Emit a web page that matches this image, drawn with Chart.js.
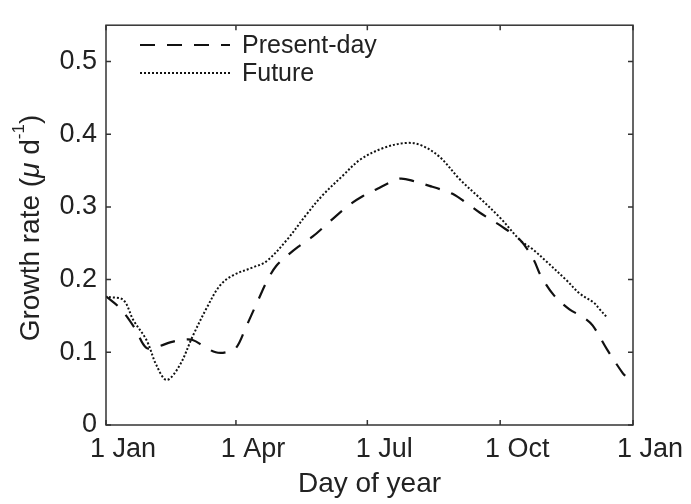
<!DOCTYPE html>
<html>
<head>
<meta charset="utf-8">
<script src="https://cdn.jsdelivr.net/npm/chart.js@4"></script>
<style>
  html, body { margin: 0; padding: 0; background: #fff; }
  #wrap { width: 691px; height: 504px; }
</style>
</head>
<body>
<div id="wrap"><canvas id="growthChart"></canvas></div>
<script>
// values (x = day of year)
const presentDays = [0, 10, 20, 28, 36, 45, 52, 60, 68, 76, 83, 90, 97, 105, 112, 118, 125, 133, 143, 155, 168, 178, 188, 196, 204, 214, 224, 232, 240, 250, 259, 267, 275, 287, 296, 301, 310, 321, 330, 337, 347, 358, 360];
const presentRate = [0.177, 0.160, 0.133, 0.106, 0.108, 0.114, 0.117, 0.117, 0.108, 0.100, 0.100, 0.106, 0.135, 0.170, 0.200, 0.219, 0.232, 0.245, 0.259, 0.280, 0.302, 0.315, 0.325, 0.333, 0.339, 0.335, 0.329, 0.324, 0.318, 0.305, 0.292, 0.282, 0.272, 0.254, 0.228, 0.206, 0.179, 0.159, 0.149, 0.137, 0.104, 0.071, 0.067];

const futureDays = [2, 12, 19, 28, 35, 42, 51, 60, 70, 79, 88, 102, 111, 125, 139, 150, 164, 176, 192, 208, 218, 231, 245, 259, 273, 287, 296, 305, 319, 328, 338, 342, 347];
const futureRate = [0.176, 0.172, 0.144, 0.117, 0.082, 0.062, 0.082, 0.122, 0.162, 0.192, 0.206, 0.217, 0.225, 0.254, 0.290, 0.316, 0.343, 0.365, 0.381, 0.388, 0.385, 0.369, 0.338, 0.312, 0.285, 0.254, 0.241, 0.225, 0.199, 0.181, 0.168, 0.159, 0.148];

const xTickDays = [0, 90, 181, 273, 365];
const xTickLabels = ['1 Jan', '1 Apr', '1 Jul', '1 Oct', '1 Jan'];
const yTicks = [0, 0.1, 0.2, 0.3, 0.4, 0.5];
const seriesNames = ['Present-day', 'Future'];

const FONT = '"Liberation Sans", Arial, sans-serif';
const INK = '#222';

function toPoints(xs, ys) {
  return xs.map((x, i) => ({ x, y: ys[i] }));
}

// box, inward ticks, legend and axis titles in the matlab style
const framePlugin = {
  id: 'frame',
  afterDraw(chart) {
    const { ctx, chartArea: a, scales } = chart;
    ctx.save();
    ctx.strokeStyle = '#333';
    ctx.lineWidth = 1.5;
    ctx.strokeRect(a.left, a.top, a.right - a.left, a.bottom - a.top);

    const tl = 5;
    ctx.beginPath();
    xTickDays.forEach(d => {
      const px = scales.x.getPixelForValue(d);
      ctx.moveTo(px, a.bottom); ctx.lineTo(px, a.bottom - tl);
      ctx.moveTo(px, a.top); ctx.lineTo(px, a.top + tl);
    });
    yTicks.forEach(v => {
      const py = scales.y.getPixelForValue(v);
      ctx.moveTo(a.left, py); ctx.lineTo(a.left + tl, py);
      ctx.moveTo(a.right, py); ctx.lineTo(a.right - tl, py);
    });
    ctx.stroke();

    // legend
    ctx.fillStyle = INK;
    ctx.font = '25px ' + FONT;
    ctx.textBaseline = 'middle';
    chart.data.datasets.forEach((ds, i) => {
      const y = 45 + i * 28;
      ctx.beginPath();
      ctx.strokeStyle = ds.borderColor;
      ctx.lineWidth = ds.borderWidth;
      ctx.setLineDash(ds.borderDash);
      ctx.moveTo(140, y); ctx.lineTo(230, y);
      ctx.stroke();
      ctx.setLineDash([]);
      ctx.fillText(seriesNames[i], 242, y + 1);
    });

    // x title
    ctx.font = '28px ' + FONT;
    ctx.textAlign = 'center';
    ctx.fillText('Day of year', (a.left + a.right) / 2, 484);

    // y title with italic mu and superscript
    ctx.translate(31, 228);
    ctx.rotate(-Math.PI / 2);
    const parts = [
      { t: 'Growth rate (', f: '28px ' + FONT, dy: 0 },
      { t: 'μ', f: 'italic 28px ' + FONT, dy: 0 },
      { t: ' d', f: '28px ' + FONT, dy: 0 },
      { t: '-1', f: '17px ' + FONT, dy: -12 },
      { t: ')', f: '28px ' + FONT, dy: 0 }
    ];
    let total = 0;
    parts.forEach(p => { ctx.font = p.f; p.w = ctx.measureText(p.t).width; total += p.w; });
    let x = -total / 2;
    ctx.textAlign = 'left';
    parts.forEach(p => {
      ctx.font = p.f;
      ctx.fillText(p.t, x, p.dy);
      x += p.w;
    });
    ctx.restore();
  }
};

const ctx = document.getElementById('growthChart').getContext('2d');
new Chart(ctx, {
  type: 'line',
  data: {
    datasets: [
      {
        label: seriesNames[0],
        data: toPoints(presentDays, presentRate),
        borderColor: '#111',
        borderWidth: 2.2,
        borderDash: [15, 12],
        pointRadius: 0,
        tension: 0.35,
        fill: false
      },
      {
        label: seriesNames[1],
        data: toPoints(futureDays, futureRate),
        borderColor: '#111',
        borderWidth: 2,
        borderDash: [2, 2],
        pointRadius: 0,
        tension: 0.35,
        fill: false
      }
    ]
  },
  options: {
    responsive: true,
    maintainAspectRatio: false,
    animation: false,
    layout: { padding: { top: 11, right: 58, left: 0, bottom: 0 } },
    plugins: {
      legend: { display: false },
      tooltip: { enabled: false }
    },
    scales: {
      x: {
        type: 'linear',
        min: 0,
        max: 365,
        grid: { display: false, drawTicks: false },
        border: { display: false },
        afterBuildTicks: scale => { scale.ticks = xTickDays.map(v => ({ value: v })); },
        afterFit: scale => { scale.height = 79; },
        ticks: {
          color: INK,
          font: { family: FONT, size: 27 },
          padding: 8,
          labelOffset: 17,
          maxRotation: 0,
          autoSkip: false,
          callback: (value, index) => xTickLabels[index]
        }
      },
      y: {
        min: 0,
        max: 0.55,
        grid: { display: false, drawTicks: false },
        border: { display: false },
        afterBuildTicks: scale => { scale.ticks = yTicks.map(v => ({ value: v })); },
        afterFit: scale => { scale.width = 106; },
        ticks: {
          color: INK,
          font: { family: FONT, size: 27 },
          padding: 9,
          callback: value => String(+value.toFixed(1))
        }
      }
    }
  },
  plugins: [framePlugin]
});
</script>
</body>
</html>
